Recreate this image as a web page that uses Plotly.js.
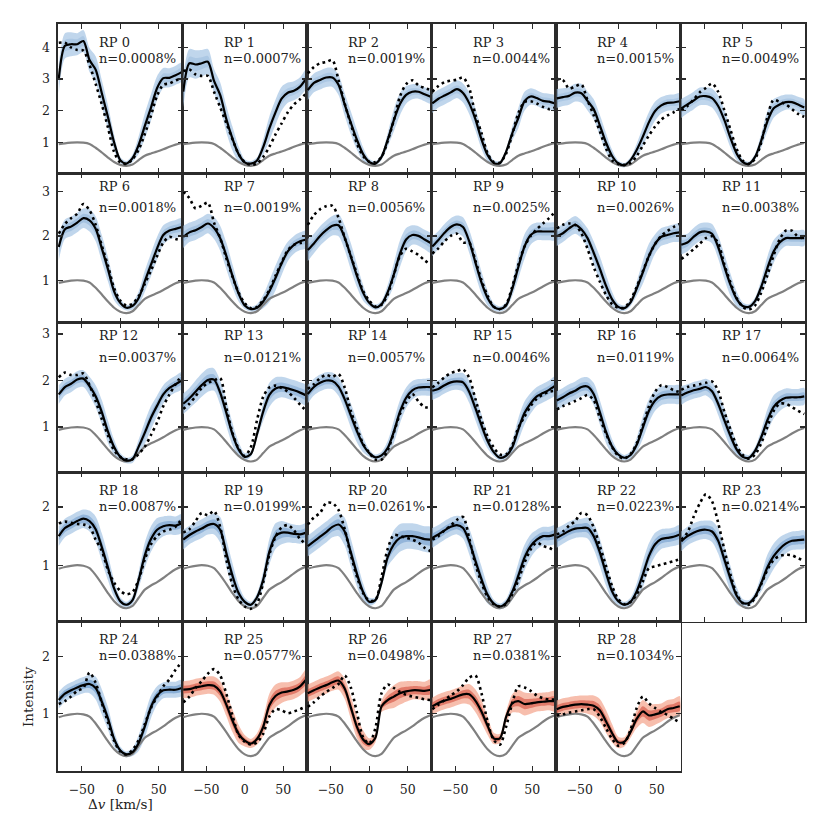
<!DOCTYPE html>
<html><head><meta charset="utf-8">
<script src="https://cdn.plot.ly/plotly-3.0.1.min.js"></script>
<style>html,body{margin:0;padding:0;background:#fff}#chart{width:830px;height:830px}</style>
</head><body><div id="chart"></div>
<script>
const velocity = [-80,-72,-64,-56,-48,-40,-32,-24,-16,-8,0,8,16,24,32,40,48,56,64,72,80];
const reference = [0.94,0.97,0.99,1.0,0.99,0.95,0.83,0.68,0.52,0.38,0.29,0.26,0.30,0.44,0.58,0.65,0.71,0.78,0.86,0.93,0.98];
const panelLabels = ['RP 0','RP 1','RP 2','RP 3','RP 4','RP 5','RP 6','RP 7','RP 8','RP 9','RP 10','RP 11','RP 12','RP 13','RP 14','RP 15','RP 16','RP 17','RP 18','RP 19','RP 20','RP 21','RP 22','RP 23','RP 24','RP 25','RP 26','RP 27','RP 28'];
const fractions = ['0.0008','0.0007','0.0019','0.0044','0.0015','0.0049','0.0018','0.0019','0.0056','0.0025','0.0026','0.0038','0.0037','0.0121','0.0057','0.0046','0.0119','0.0064','0.0087','0.0199','0.0261','0.0128','0.0223','0.0214','0.0388','0.0577','0.0498','0.0381','0.1034'];
const medianLines = [
[3.0,4.05,4.1,4.1,4.2,3.6,3.3,2.55,1.8,1.0,0.44,0.33,0.5,0.92,1.52,2.1,2.72,3.03,3.04,3.12,3.22],
[2.6,3.5,3.46,3.5,3.55,2.94,2.5,1.74,1.12,0.63,0.37,0.33,0.43,0.85,1.44,1.95,2.38,2.57,2.63,2.76,3.02],
[2.65,2.88,2.97,3.05,3.05,2.82,2.2,1.62,1.08,0.63,0.38,0.33,0.54,1.08,1.7,2.21,2.5,2.6,2.6,2.52,2.44],
[2.23,2.38,2.48,2.58,2.68,2.56,2.24,1.74,1.1,0.6,0.35,0.34,0.7,1.28,1.77,2.3,2.45,2.4,2.31,2.29,2.23],
[2.39,2.43,2.47,2.57,2.55,2.31,2.05,1.54,1.0,0.57,0.34,0.28,0.44,0.76,1.18,1.64,1.99,2.17,2.25,2.26,2.3],
[2.07,2.2,2.32,2.45,2.46,2.4,2.15,1.71,1.14,0.65,0.38,0.32,0.54,1.05,1.66,2.07,2.2,2.27,2.27,2.2,2.1],
[1.75,2.15,2.21,2.3,2.4,2.35,2.16,1.72,1.25,0.75,0.49,0.38,0.42,0.6,0.98,1.35,1.72,2.02,2.12,2.16,2.2],
[1.98,2.08,2.13,2.2,2.28,2.18,1.95,1.55,1.1,0.7,0.43,0.35,0.38,0.52,0.75,1.05,1.38,1.65,1.8,1.88,1.92],
[1.68,1.83,2.0,2.13,2.23,2.24,1.96,1.54,1.1,0.72,0.49,0.39,0.46,0.73,1.13,1.6,1.92,2.02,2.0,1.92,1.84],
[1.76,1.91,2.07,2.2,2.26,2.2,1.88,1.41,0.95,0.6,0.4,0.35,0.43,0.8,1.3,1.76,2.02,2.1,2.1,2.1,2.1],
[1.99,2.06,2.17,2.25,2.15,1.95,1.62,1.26,0.88,0.57,0.4,0.37,0.5,0.81,1.18,1.55,1.82,1.98,2.02,2.06,2.08],
[1.8,1.85,1.98,2.08,2.1,2.05,1.75,1.31,0.9,0.58,0.42,0.4,0.53,0.85,1.27,1.64,1.85,1.95,1.95,1.95,1.95],
[1.7,1.86,1.93,2.02,2.04,1.88,1.66,1.32,0.9,0.57,0.36,0.28,0.31,0.58,0.88,1.2,1.46,1.7,1.84,1.92,2.0],
[1.5,1.62,1.76,1.9,2.01,2.02,1.74,1.31,0.85,0.52,0.36,0.42,0.85,1.33,1.69,1.83,1.86,1.83,1.79,1.74,1.68],
[1.71,1.86,1.95,2.0,1.99,1.87,1.6,1.25,0.91,0.62,0.44,0.35,0.39,0.55,0.9,1.33,1.63,1.79,1.85,1.86,1.86],
[1.78,1.82,1.9,1.96,1.98,1.96,1.76,1.41,1.04,0.7,0.46,0.34,0.38,0.56,0.95,1.3,1.51,1.66,1.73,1.8,1.89],
[1.57,1.64,1.72,1.78,1.86,1.87,1.71,1.32,0.9,0.58,0.41,0.34,0.4,0.62,0.99,1.35,1.57,1.67,1.7,1.7,1.7],
[1.68,1.74,1.79,1.82,1.86,1.77,1.5,1.15,0.81,0.52,0.36,0.34,0.49,0.78,1.14,1.43,1.56,1.63,1.64,1.64,1.66],
[1.5,1.64,1.7,1.76,1.8,1.76,1.62,1.31,0.96,0.6,0.38,0.32,0.4,0.75,1.17,1.45,1.61,1.67,1.69,1.68,1.72],
[1.44,1.52,1.58,1.63,1.69,1.71,1.61,1.21,0.82,0.52,0.37,0.32,0.45,0.75,1.23,1.5,1.56,1.56,1.54,1.53,1.56],
[1.33,1.41,1.49,1.57,1.66,1.7,1.58,1.22,0.85,0.54,0.37,0.4,0.7,1.14,1.36,1.47,1.5,1.5,1.48,1.45,1.44],
[1.47,1.53,1.6,1.66,1.69,1.64,1.41,1.08,0.76,0.49,0.34,0.29,0.35,0.54,0.82,1.13,1.33,1.44,1.5,1.5,1.53],
[1.47,1.53,1.59,1.63,1.64,1.64,1.5,1.22,0.87,0.55,0.38,0.32,0.37,0.55,0.84,1.16,1.36,1.45,1.47,1.49,1.53],
[1.41,1.5,1.56,1.6,1.61,1.58,1.42,1.1,0.77,0.48,0.35,0.35,0.46,0.69,0.96,1.15,1.28,1.37,1.42,1.43,1.44],
[1.24,1.35,1.41,1.46,1.5,1.52,1.45,1.21,0.92,0.56,0.36,0.29,0.33,0.49,0.78,1.12,1.32,1.41,1.42,1.42,1.45],
[1.42,1.43,1.46,1.48,1.5,1.49,1.39,1.16,0.88,0.65,0.53,0.48,0.56,0.77,1.15,1.31,1.37,1.39,1.42,1.48,1.6],
[1.36,1.41,1.46,1.5,1.55,1.58,1.44,1.11,0.77,0.55,0.47,0.58,1.13,1.24,1.3,1.36,1.39,1.41,1.41,1.4,1.42],
[1.13,1.19,1.23,1.26,1.3,1.34,1.34,1.23,1.04,0.79,0.57,0.57,0.94,1.18,1.22,1.17,1.18,1.2,1.21,1.22,1.22],
[1.08,1.12,1.14,1.16,1.17,1.16,1.14,1.06,0.87,0.66,0.5,0.51,0.68,0.91,1.04,0.97,0.99,1.02,1.08,1.1,1.13]
];
const dottedLines = [
[4.15,4.15,4.0,3.92,3.9,3.45,2.85,2.2,1.47,0.7,0.36,0.32,0.47,0.77,1.27,1.85,2.48,2.82,2.86,2.96,3.02],
[3.25,3.3,3.15,3.1,3.1,2.6,2.11,1.61,1.1,0.63,0.37,0.29,0.33,0.54,0.86,1.25,1.6,1.95,2.2,2.36,2.55],
[3.18,3.38,3.5,3.54,3.6,2.97,2.23,1.58,0.96,0.57,0.39,0.38,0.54,1.04,1.7,2.45,2.84,2.96,2.8,2.72,2.65],
[2.6,2.78,2.9,2.95,2.98,3.05,2.72,1.88,1.3,0.65,0.38,0.36,0.64,1.24,1.92,2.28,2.3,2.23,2.12,2.05,2.1],
[3.0,2.97,2.7,2.77,2.83,2.33,1.86,1.35,0.81,0.43,0.32,0.29,0.35,0.57,0.9,1.22,1.5,1.72,1.85,1.95,2.06],
[2.02,2.15,2.35,2.58,2.72,2.86,2.6,2.02,1.4,0.8,0.42,0.32,0.48,0.99,1.79,2.34,2.28,2.2,2.05,1.9,1.81],
[2.05,2.27,2.4,2.5,2.72,2.58,2.25,1.78,1.33,0.82,0.54,0.43,0.47,0.64,0.92,1.22,1.55,1.85,1.98,1.93,1.9],
[3.0,2.85,2.62,2.68,2.75,2.3,1.95,1.5,1.08,0.72,0.48,0.37,0.4,0.55,0.78,1.1,1.4,1.68,1.8,1.84,1.86],
[2.25,2.47,2.6,2.67,2.68,2.41,1.96,1.55,1.14,0.76,0.54,0.41,0.45,0.68,1.12,1.55,1.71,1.65,1.57,1.45,1.35],
[1.6,1.72,1.88,2.0,2.05,1.85,1.85,1.45,1.0,0.65,0.4,0.35,0.45,0.85,1.35,1.76,2.0,2.15,2.28,2.4,2.55],
[2.17,2.25,2.28,2.25,2.06,1.71,1.3,0.97,0.67,0.46,0.38,0.38,0.55,0.85,1.2,1.55,1.82,2.0,2.11,2.2,2.27],
[1.48,1.58,1.7,1.82,1.95,1.99,1.84,1.36,0.95,0.6,0.4,0.34,0.43,0.72,1.11,1.55,1.92,2.12,2.12,1.98,1.95],
[2.07,2.17,2.12,2.12,2.15,1.9,1.56,1.17,0.82,0.5,0.36,0.31,0.31,0.42,0.58,0.83,1.1,1.45,1.7,1.92,2.11],
[1.39,1.5,1.66,1.84,1.95,2.0,2.05,1.42,0.88,0.54,0.38,0.57,1.15,1.65,1.85,1.89,1.84,1.76,1.63,1.48,1.35],
[1.82,1.92,2.05,2.12,2.08,2.14,1.85,1.35,0.98,0.64,0.45,0.3,0.3,0.5,0.88,1.28,1.53,1.71,1.55,1.43,1.42],
[1.85,1.95,2.07,2.16,2.2,2.24,2.06,1.61,1.15,0.8,0.56,0.41,0.41,0.6,0.99,1.22,1.45,1.61,1.7,1.76,1.78],
[1.38,1.45,1.5,1.56,1.62,1.69,1.58,1.2,0.86,0.57,0.38,0.32,0.42,0.65,1.04,1.45,1.76,1.9,1.86,1.79,1.75],
[1.8,1.86,1.89,1.92,1.95,1.98,1.78,1.33,0.95,0.6,0.4,0.32,0.41,0.65,1.0,1.34,1.5,1.5,1.43,1.35,1.28],
[1.72,1.75,1.73,1.71,1.7,1.66,1.44,1.25,0.92,0.7,0.56,0.5,0.54,0.75,1.1,1.36,1.5,1.58,1.61,1.66,1.8],
[1.56,1.62,1.76,1.9,1.86,1.93,1.66,1.1,0.66,0.41,0.29,0.25,0.34,0.7,1.18,1.49,1.65,1.69,1.6,1.45,1.36],
[1.7,1.82,1.9,2.07,2.07,1.95,1.62,1.18,0.8,0.52,0.39,0.4,0.8,1.28,1.52,1.5,1.47,1.44,1.39,1.3,1.24],
[1.44,1.5,1.6,1.68,1.78,1.83,1.47,1.02,0.7,0.45,0.33,0.29,0.33,0.5,0.74,1.04,1.27,1.39,1.33,1.3,1.24],
[1.53,1.58,1.68,1.76,1.9,1.86,1.65,1.33,0.99,0.64,0.42,0.33,0.37,0.5,0.72,0.95,0.98,1.01,1.04,1.07,1.1],
[1.44,1.56,1.83,2.06,2.22,2.1,1.73,1.27,0.84,0.51,0.35,0.32,0.44,0.67,0.92,1.09,1.16,1.18,1.17,1.12,1.08],
[1.17,1.22,1.3,1.4,1.45,1.72,1.54,1.19,0.85,0.53,0.34,0.29,0.37,0.54,0.82,1.1,1.3,1.48,1.6,1.77,1.9],
[1.2,1.3,1.45,1.57,1.7,1.78,1.67,1.35,0.97,0.63,0.51,0.46,0.5,0.65,0.95,1.08,1.06,1.01,1.04,1.08,1.13],
[1.12,1.2,1.3,1.38,1.45,1.52,1.67,1.46,1.02,0.59,0.48,0.75,1.36,1.51,1.45,1.38,1.33,1.3,1.28,1.25,1.24],
[1.08,1.16,1.24,1.32,1.39,1.5,1.63,1.67,1.36,0.86,0.54,0.46,0.77,1.18,1.48,1.46,1.4,1.32,1.27,1.25,1.25],
[0.97,0.99,1.02,1.04,1.06,1.08,1.08,0.95,0.75,0.56,0.44,0.49,0.72,1.1,1.3,1.18,1.1,1.03,0.98,0.91,0.85]
];
const bandSpread = [
[0.45,0.4,0.38,0.35,0.35,0.38,0.42,0.42,0.38,0.25,0.1,0.08,0.12,0.28,0.4,0.42,0.38,0.32,0.3,0.3,0.3],
[0.5,0.45,0.45,0.42,0.4,0.38,0.4,0.42,0.38,0.25,0.1,0.08,0.1,0.25,0.38,0.4,0.38,0.32,0.3,0.3,0.3],
[0.32,0.3,0.3,0.3,0.3,0.32,0.36,0.36,0.32,0.22,0.1,0.07,0.1,0.22,0.35,0.35,0.28,0.24,0.22,0.22,0.22],
[0.3,0.28,0.28,0.28,0.28,0.3,0.34,0.35,0.3,0.2,0.09,0.07,0.1,0.22,0.32,0.3,0.26,0.25,0.25,0.25,0.25],
[0.3,0.28,0.28,0.28,0.3,0.3,0.32,0.33,0.3,0.2,0.09,0.07,0.09,0.2,0.3,0.32,0.3,0.26,0.25,0.25,0.25],
[0.3,0.28,0.28,0.28,0.28,0.3,0.33,0.34,0.3,0.2,0.09,0.07,0.1,0.22,0.32,0.3,0.26,0.24,0.24,0.24,0.26],
[0.3,0.22,0.22,0.22,0.22,0.25,0.28,0.3,0.28,0.2,0.1,0.06,0.08,0.15,0.24,0.26,0.26,0.22,0.2,0.2,0.2],
[0.25,0.22,0.22,0.22,0.22,0.25,0.28,0.3,0.26,0.18,0.08,0.06,0.08,0.15,0.24,0.28,0.26,0.22,0.2,0.2,0.2],
[0.25,0.22,0.22,0.22,0.22,0.25,0.28,0.3,0.26,0.18,0.08,0.06,0.08,0.16,0.26,0.3,0.26,0.22,0.22,0.22,0.22],
[0.22,0.2,0.2,0.2,0.2,0.22,0.26,0.28,0.25,0.17,0.08,0.06,0.08,0.16,0.26,0.28,0.22,0.2,0.2,0.2,0.2],
[0.22,0.2,0.2,0.2,0.2,0.22,0.26,0.28,0.25,0.17,0.08,0.06,0.08,0.16,0.26,0.28,0.22,0.2,0.2,0.2,0.2],
[0.22,0.2,0.2,0.2,0.2,0.22,0.26,0.28,0.25,0.17,0.08,0.06,0.08,0.16,0.26,0.26,0.2,0.18,0.18,0.18,0.18],
[0.2,0.18,0.18,0.18,0.18,0.2,0.24,0.26,0.24,0.16,0.08,0.06,0.08,0.15,0.24,0.25,0.22,0.2,0.18,0.18,0.18],
[0.22,0.22,0.24,0.25,0.25,0.24,0.26,0.28,0.24,0.16,0.08,0.06,0.1,0.2,0.26,0.24,0.22,0.22,0.22,0.22,0.22],
[0.2,0.18,0.18,0.18,0.18,0.2,0.24,0.26,0.24,0.16,0.08,0.06,0.08,0.15,0.24,0.25,0.22,0.2,0.18,0.18,0.18],
[0.2,0.18,0.18,0.18,0.18,0.2,0.24,0.26,0.24,0.16,0.08,0.06,0.08,0.15,0.24,0.25,0.22,0.2,0.2,0.2,0.2],
[0.2,0.2,0.2,0.2,0.2,0.2,0.24,0.26,0.24,0.16,0.08,0.06,0.08,0.15,0.24,0.25,0.22,0.2,0.2,0.2,0.2],
[0.2,0.18,0.18,0.18,0.18,0.2,0.24,0.26,0.24,0.16,0.08,0.06,0.08,0.15,0.24,0.25,0.22,0.2,0.18,0.18,0.18],
[0.17,0.16,0.16,0.16,0.16,0.18,0.22,0.24,0.22,0.15,0.07,0.05,0.07,0.14,0.22,0.22,0.2,0.17,0.16,0.16,0.16],
[0.17,0.16,0.16,0.16,0.16,0.18,0.22,0.24,0.22,0.15,0.07,0.05,0.07,0.14,0.22,0.22,0.2,0.17,0.16,0.16,0.16],
[0.18,0.18,0.18,0.18,0.18,0.2,0.24,0.24,0.22,0.15,0.07,0.05,0.08,0.16,0.24,0.24,0.22,0.22,0.22,0.22,0.22],
[0.17,0.16,0.16,0.16,0.16,0.18,0.22,0.24,0.22,0.15,0.07,0.05,0.07,0.14,0.22,0.22,0.2,0.17,0.16,0.16,0.16],
[0.17,0.16,0.16,0.16,0.16,0.18,0.22,0.24,0.22,0.15,0.07,0.05,0.07,0.14,0.22,0.22,0.2,0.17,0.16,0.16,0.16],
[0.17,0.16,0.16,0.16,0.16,0.18,0.22,0.24,0.22,0.15,0.07,0.05,0.07,0.14,0.22,0.22,0.2,0.17,0.16,0.16,0.16],
[0.15,0.14,0.14,0.14,0.14,0.16,0.2,0.22,0.2,0.14,0.07,0.05,0.07,0.14,0.2,0.2,0.16,0.14,0.14,0.14,0.14],
[0.15,0.15,0.15,0.15,0.15,0.16,0.18,0.2,0.2,0.16,0.1,0.08,0.1,0.16,0.2,0.2,0.18,0.16,0.16,0.16,0.18],
[0.15,0.15,0.15,0.15,0.15,0.16,0.18,0.2,0.2,0.16,0.1,0.08,0.1,0.16,0.2,0.2,0.18,0.16,0.16,0.16,0.18],
[0.15,0.15,0.15,0.15,0.15,0.16,0.18,0.2,0.2,0.16,0.1,0.08,0.1,0.16,0.2,0.2,0.18,0.16,0.16,0.16,0.18],
[0.15,0.15,0.15,0.15,0.15,0.16,0.18,0.2,0.2,0.16,0.1,0.08,0.1,0.16,0.2,0.2,0.18,0.16,0.16,0.16,0.18]
];
const yTickValues = [[1,2,3,4],[1,2,3],[1,2,3],[1,2],[1,2]];
const xTickValues = [-50,0,50];
const xTickText = ['\u221250','0','50'];

const W = 830, left0 = 58, colW = 124.5, top0 = 24, rowH = 149.4;
const rowRanges = [[0.02,4.74],[0.04,3.41],[0.03,3.24],[0.03,2.6],[0.0,2.61]];
const labelY = [[0.876,0.769],[0.915,0.769],[0.913,0.769],[0.88,0.772],[0.88,0.772]];
const FONT = '"DejaVu Serif", "Liberation Serif", serif';
const traces = [];
const layout = {
  width: W, height: W, margin: {l:0,r:0,t:0,b:0}, showlegend: false,
  paper_bgcolor: '#fff', plot_bgcolor: '#fff', annotations: []
};
for (let i = 0; i < medianLines.length; i++) {
  const r = Math.floor(i / 6), c = i % 6, n = i + 1;
  const xa = 'x' + (n === 1 ? '' : n), ya = 'y' + (n === 1 ? '' : n);
  const red = i >= 25;
  const x0 = (left0 + c * colW) / W, x1 = (left0 + (c + 1) * colW) / W;
  const yTop = 1 - (top0 + r * rowH) / W, yBot = 1 - (top0 + (r + 1) * rowH) / W;
  const axCommon = {showline:true, linecolor:'#2b2b2b', linewidth:1.6, mirror:'allticks', ticks:'inside',
    ticklen:5, tickwidth:1.2, tickcolor:'#2b2b2b', showgrid:false, zeroline:false,
    tickfont:{family:FONT, size:12.5, color:'#222'}, fixedrange:true};
  layout['xaxis' + (n === 1 ? '' : n)] = Object.assign({}, axCommon, {
    domain:[x0, x1], anchor: ya, range:[-81, 81], tickmode:'array', tickvals: xTickValues, ticktext: xTickText,
    showticklabels: r === 4, ticklabelstandoff: 6});
  layout['yaxis' + (n === 1 ? '' : n)] = Object.assign({}, axCommon, {
    domain:[yBot, yTop], anchor: xa, range: rowRanges[r], tickmode:'array', tickvals: yTickValues[r],
    ticktext: yTickValues[r].map(String), showticklabels: c === 0, ticklabelstandoff: 4});
  const med = medianLines[i], sp = bandSpread[i];
  const outerCol = red ? 'rgba(244,168,145,0.75)' : 'rgba(168,198,228,0.72)';
  const innerCol = red ? 'rgba(212,78,62,0.6)' : 'rgba(95,145,198,' + (0.2 + 0.09 * r).toFixed(2) + ')';
  [[1.0, outerCol], [0.45, innerCol]].forEach(([f, col]) => {
    const up = med.map((v, k) => v + f * sp[k]);
    const lo = med.map((v, k) => v - f * sp[k]);
    traces.push({x: velocity.concat(velocity.slice().reverse()), y: up.concat(lo.slice().reverse()),
      xaxis: xa, yaxis: ya, mode:'lines', fill:'toself', fillcolor: col, line:{width:0, shape:'spline', smoothing:0.8},
      hoverinfo:'skip'});
  });
  traces.push({x: velocity, y: reference, xaxis: xa, yaxis: ya, mode:'lines',
    line:{color:'#808080', width:2.2, shape:'spline', smoothing:0.8}, hoverinfo:'skip'});
  traces.push({x: velocity, y: med, xaxis: xa, yaxis: ya, mode:'lines',
    line:{color:'#000', width:2.2, shape:'spline', smoothing:0.8}, hoverinfo:'skip'});
  traces.push({x: velocity, y: dottedLines[i], xaxis: xa, yaxis: ya, mode:'lines',
    line:{color:'#000', width:2.6, dash:'2.6px,3.6px', shape:'spline', smoothing:0.8}, hoverinfo:'skip'});
  layout.annotations.push({xref: xa + ' domain', yref: ya + ' domain', x: 0.315, y: labelY[r][0],
    xanchor:'left', yanchor:'middle', showarrow:false, text: panelLabels[i],
    font:{family:FONT, size:13, color:'#222'}});
  layout.annotations.push({xref: xa + ' domain', yref: ya + ' domain', x: 0.315, y: labelY[r][1],
    xanchor:'left', yanchor:'middle', showarrow:false, text: 'n=' + fractions[i] + '%',
    font:{family:FONT, size:13, color:'#222'}});
}
layout.annotations.push({xref:'paper', yref:'paper', x: 28 / W, y: 1 - 697 / W, textangle: -90,
  xanchor:'center', yanchor:'middle',
  showarrow:false, text:'Intensity', font:{family:FONT, size:13.5, color:'#222'}});
layout.annotations.push({xref:'paper', yref:'paper', x: 120 / W, y: 1 - 804 / W,
  xanchor:'center', yanchor:'middle',
  showarrow:false, text:'\u0394<i>v</i> [km/s]', font:{family:FONT, size:13.5, color:'#222'}});
Plotly.newPlot('chart', traces, layout, {staticPlot:true, displayModeBar:false});
</script>
</body></html>
